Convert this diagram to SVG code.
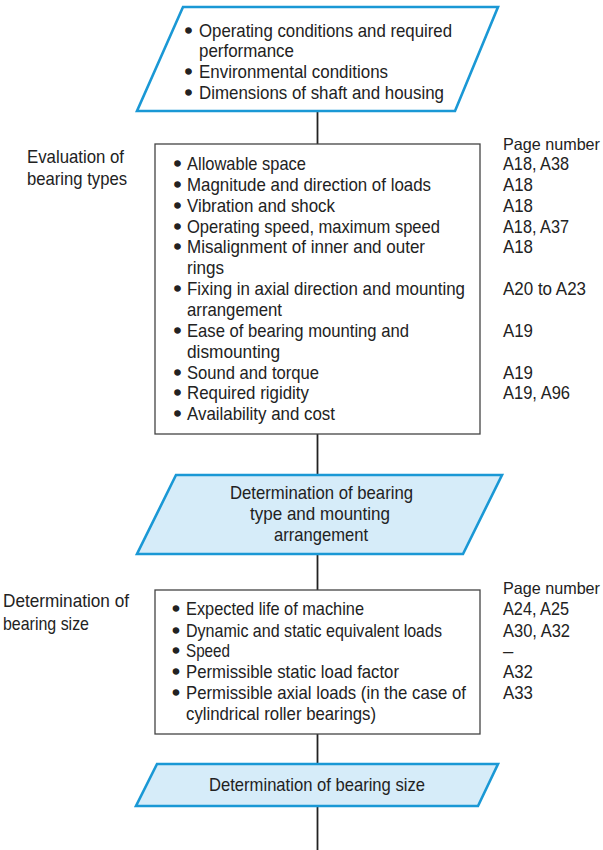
<svg xmlns="http://www.w3.org/2000/svg" width="603" height="850" viewBox="0 0 603 850">
<style>
text{font-family:"Liberation Sans",Arial,sans-serif;font-size:18.5px;fill:#222}
.b{text-anchor:middle;stroke:#222;stroke-width:1.6}
.t{text-anchor:start;stroke:none}
.m{text-anchor:middle}
.pn{font-size:16.5px}
.io{fill:#fff;stroke:#1a98d5;stroke-width:2.6;stroke-linejoin:miter}
.res{fill:#d6ecf9;stroke:#1a98d5;stroke-width:2.6}
.box{fill:#fff;stroke:#444;stroke-width:1.3}
.con{stroke:#222;stroke-width:1.8;fill:none}
</style>
<rect width="603" height="850" fill="#fff"/>
<g id="connectors">
<line class="con" x1="317.5" y1="111" x2="317.5" y2="144"/>
<line class="con" x1="317.5" y1="434" x2="317.5" y2="475"/>
<line class="con" x1="317.5" y1="554" x2="317.5" y2="590"/>
<line class="con" x1="317.5" y1="734" x2="317.5" y2="764"/>
<line class="con" x1="317.5" y1="806" x2="317.5" y2="850"/>
</g>
<g id="input">
<polygon class="io" points="183,7 498,7 455,111 137,111"/>
<text y="37"><tspan class="b" x="188.5">•</tspan><tspan class="t" x="199" textLength="253" lengthAdjust="spacingAndGlyphs">Operating conditions and required</tspan></text>
<text x="199" y="57" textLength="95" lengthAdjust="spacingAndGlyphs">performance</text>
<text y="78"><tspan class="b" x="188.5">•</tspan><tspan class="t" x="199" textLength="189" lengthAdjust="spacingAndGlyphs">Environmental conditions</tspan></text>
<text y="99"><tspan class="b" x="188.5">•</tspan><tspan class="t" x="199" textLength="245" lengthAdjust="spacingAndGlyphs">Dimensions of shaft and housing</tspan></text>
</g>
<g id="eval-label">
<text x="27" y="163" textLength="97" lengthAdjust="spacingAndGlyphs">Evaluation of</text>
<text x="27" y="185" textLength="100" lengthAdjust="spacingAndGlyphs">bearing types</text>
</g>
<g id="eval-box">
<rect class="box" x="155" y="144" width="325" height="290"/>
<text y="170"><tspan class="b" x="177.5">•</tspan><tspan class="t" x="187" textLength="119" lengthAdjust="spacingAndGlyphs">Allowable space</tspan></text>
<text y="191"><tspan class="b" x="177.5">•</tspan><tspan class="t" x="187" textLength="244" lengthAdjust="spacingAndGlyphs">Magnitude and direction of loads</tspan></text>
<text y="212"><tspan class="b" x="177.5">•</tspan><tspan class="t" x="187" textLength="148" lengthAdjust="spacingAndGlyphs">Vibration and shock</tspan></text>
<text y="233"><tspan class="b" x="177.5">•</tspan><tspan class="t" x="187" textLength="253" lengthAdjust="spacingAndGlyphs">Operating speed, maximum speed</tspan></text>
<text y="253"><tspan class="b" x="177.5">•</tspan><tspan class="t" x="187" textLength="238" lengthAdjust="spacingAndGlyphs">Misalignment of inner and outer</tspan></text>
<text x="187" y="274" textLength="37" lengthAdjust="spacingAndGlyphs">rings</text>
<text y="295"><tspan class="b" x="177.5">•</tspan><tspan class="t" x="187" textLength="278" lengthAdjust="spacingAndGlyphs">Fixing in axial direction and mounting</tspan></text>
<text x="187" y="316" textLength="95" lengthAdjust="spacingAndGlyphs">arrangement</text>
<text y="337"><tspan class="b" x="177.5">•</tspan><tspan class="t" x="187" textLength="222" lengthAdjust="spacingAndGlyphs">Ease of bearing mounting and</tspan></text>
<text x="187" y="358" textLength="93" lengthAdjust="spacingAndGlyphs">dismounting</text>
<text y="379"><tspan class="b" x="177.5">•</tspan><tspan class="t" x="187" textLength="132" lengthAdjust="spacingAndGlyphs">Sound and torque</tspan></text>
<text y="399"><tspan class="b" x="177.5">•</tspan><tspan class="t" x="187" textLength="122" lengthAdjust="spacingAndGlyphs">Required rigidity</tspan></text>
<text y="420"><tspan class="b" x="177.5">•</tspan><tspan class="t" x="187" textLength="148" lengthAdjust="spacingAndGlyphs">Availability and cost</tspan></text>
</g>
<g id="eval-pages">
<text class="pn" x="503" y="150" textLength="97" lengthAdjust="spacingAndGlyphs">Page number</text>
<text x="503" y="170" textLength="66" lengthAdjust="spacingAndGlyphs">A18, A38</text>
<text x="503" y="191" textLength="30" lengthAdjust="spacingAndGlyphs">A18</text>
<text x="503" y="212" textLength="30" lengthAdjust="spacingAndGlyphs">A18</text>
<text x="503" y="233" textLength="66" lengthAdjust="spacingAndGlyphs">A18, A37</text>
<text x="503" y="253" textLength="30" lengthAdjust="spacingAndGlyphs">A18</text>
<text x="503" y="295" textLength="83" lengthAdjust="spacingAndGlyphs">A20 to A23</text>
<text x="503" y="337" textLength="30" lengthAdjust="spacingAndGlyphs">A19</text>
<text x="503" y="379" textLength="30" lengthAdjust="spacingAndGlyphs">A19</text>
<text x="503" y="399" textLength="67" lengthAdjust="spacingAndGlyphs">A19, A96</text>
</g>
<g id="type-result">
<polygon class="res" points="176,475 502,475 463,554 137,554"/>
<text class="m" x="321.5" y="499" textLength="183" lengthAdjust="spacingAndGlyphs">Determination of bearing</text>
<text class="m" x="320" y="520" textLength="140" lengthAdjust="spacingAndGlyphs">type and mounting</text>
<text class="m" x="321" y="541" textLength="94" lengthAdjust="spacingAndGlyphs">arrangement</text>
</g>
<g id="size-label">
<text x="3" y="607" textLength="126" lengthAdjust="spacingAndGlyphs">Determination of</text>
<text x="3" y="630" textLength="86" lengthAdjust="spacingAndGlyphs">bearing size</text>
</g>
<g id="size-box">
<rect class="box" x="155" y="590" width="325" height="144"/>
<text y="615"><tspan class="b" x="176">•</tspan><tspan class="t" x="186" textLength="178" lengthAdjust="spacingAndGlyphs">Expected life of machine</tspan></text>
<text y="637"><tspan class="b" x="176">•</tspan><tspan class="t" x="186" textLength="256" lengthAdjust="spacingAndGlyphs">Dynamic and static equivalent loads</tspan></text>
<text y="657"><tspan class="b" x="176">•</tspan><tspan class="t" x="186" textLength="44" lengthAdjust="spacingAndGlyphs">Speed</tspan></text>
<text y="678"><tspan class="b" x="176">•</tspan><tspan class="t" x="186" textLength="213" lengthAdjust="spacingAndGlyphs">Permissible static load factor</tspan></text>
<text y="699"><tspan class="b" x="176">•</tspan><tspan class="t" x="186" textLength="280" lengthAdjust="spacingAndGlyphs">Permissible axial loads (in the case of</tspan></text>
<text x="186" y="720" textLength="190" lengthAdjust="spacingAndGlyphs">cylindrical roller bearings)</text>
</g>
<g id="size-pages">
<text class="pn" x="503" y="594" textLength="97" lengthAdjust="spacingAndGlyphs">Page number</text>
<text x="503" y="615" textLength="66" lengthAdjust="spacingAndGlyphs">A24, A25</text>
<text x="503" y="637" textLength="67" lengthAdjust="spacingAndGlyphs">A30, A32</text>
<text x="503" y="657">–</text>
<text x="503" y="678" textLength="30" lengthAdjust="spacingAndGlyphs">A32</text>
<text x="503" y="699" textLength="30" lengthAdjust="spacingAndGlyphs">A33</text>
</g>
<g id="size-result">
<polygon class="res" points="157,764 498,764 478,806 136,806"/>
<text class="m" x="317" y="791" textLength="216" lengthAdjust="spacingAndGlyphs">Determination of bearing size</text>
</g>
</svg>
